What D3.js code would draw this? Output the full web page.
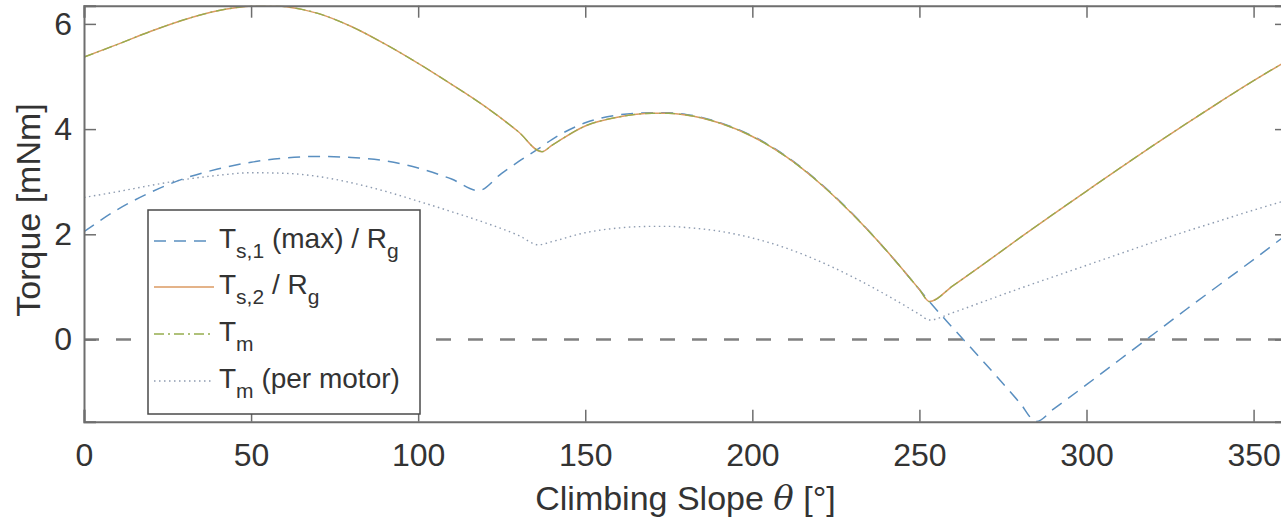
<!DOCTYPE html>
<html><head><meta charset="utf-8">
<script src="https://cdn.jsdelivr.net/npm/d3@7"></script>
<style>
html,body{margin:0;padding:0;background:#fff;overflow:hidden}
svg{display:block;font-family:"Liberation Sans",Arial,Helvetica,sans-serif}
</style></head>
<body><svg id="chart" width="1281" height="526"></svg>
<script>
// ---- data ----
const xTicks = [0, 50, 100, 150, 200, 250, 300, 350];
const yTicks = [0, 2, 4, 6];
const xDomain = [0, 360];
const yDomain = [-1.563, 6.346];

const thetaS1 = [0,10,20,30,40,50,60,70,80,90,100,110,118,125,130,137,140,150,160,170,175,180,190,200,210,220,230,240,250,253,260,270,280,285,290,300,310,320,330,340,350,360];
const ts1     = [2.05,2.47,2.80,3.06,3.24,3.37,3.45,3.48,3.46,3.40,3.26,3.05,2.83,3.16,3.38,3.67,3.80,4.12,4.27,4.31,4.31,4.28,4.13,3.87,3.49,2.99,2.39,1.70,0.95,0.72,0.22,-0.48,-1.20,-1.56,-1.33,-0.86,-0.38,0.10,0.58,1.05,1.52,2.00];

const thetaS2 = [0,10,20,30,40,50,55,60,70,80,90,100,110,120,130,137,140,150,160,170,175,180,190,200,210,220,230,240,250,253,260,270,280,290,300,310,320,330,340,350,360];
const ts2     = [5.37,5.61,5.86,6.08,6.25,6.34,6.35,6.33,6.20,5.95,5.62,5.25,4.85,4.43,3.95,3.57,3.69,4.06,4.23,4.30,4.30,4.27,4.12,3.86,3.48,2.98,2.38,1.70,0.95,0.72,1.02,1.47,1.93,2.38,2.82,3.26,3.69,4.11,4.52,4.92,5.30];

const thetaM  = [0,10,20,30,40,50,55,60,70,80,90,100,110,120,130,137,140,150,160,170,175,180,190,200,210,220,230,240,250,253,260,270,280,290,300,310,320,330,340,350,360];
const tm      = [5.37,5.61,5.86,6.08,6.25,6.34,6.35,6.33,6.20,5.95,5.62,5.25,4.85,4.43,3.95,3.57,3.69,4.06,4.23,4.30,4.30,4.27,4.12,3.86,3.48,2.98,2.38,1.70,0.95,0.72,1.02,1.47,1.93,2.38,2.82,3.26,3.69,4.11,4.52,4.92,5.30];

const thetaPM = [0,10,20,30,40,50,60,70,80,90,100,110,120,130,136,140,150,160,170,175,180,190,200,210,220,230,240,250,253,260,270,280,290,300,310,320,330,340,350,360];
const tmPer   = [2.70,2.81,2.93,3.04,3.12,3.17,3.16,3.10,2.98,2.82,2.63,2.43,2.22,1.98,1.80,1.86,2.03,2.12,2.15,2.15,2.13,2.06,1.93,1.74,1.49,1.19,0.85,0.48,0.37,0.51,0.74,0.97,1.19,1.41,1.63,1.85,2.06,2.26,2.46,2.65];

const legendLabels = [
  {main:"T", sub:"s,1", rest:" (max) / R", sub2:"g"},
  {main:"T", sub:"s,2", rest:" / R", sub2:"g"},
  {main:"T", sub:"m", rest:"", sub2:""},
  {main:"T", sub:"m", rest:" (per motor)", sub2:""}
];
const xLabel = "Climbing Slope ";
const yLabel = "Torque [mNm]";

// ---- layout ----
const svg = d3.select("#chart");
const L = 84, R = 1287, T = 5.7, B = 421.7;
const x = d3.scaleLinear().domain(xDomain).range([L, R]);
const y = d3.scaleLinear().domain(yDomain).range([B, T]);
const axisCol = "#6e6e6e", textCol = "#333";

const plot = svg.append("g");
svg.append("clipPath").attr("id","pc").append("rect")
  .attr("x",L).attr("y",T).attr("width",R-L).attr("height",B-T);

// zero line
plot.append("line").attr("x1",L).attr("x2",R).attr("y1",y(0)).attr("y2",y(0))
  .attr("stroke","#808080").attr("stroke-width",2.4).attr("stroke-dasharray","15,17");

const series = [
  {th: thetaPM, v: tmPer, color:"#8d9bb0", w:1.4, dash:"1.5,3.5"},
  {th: thetaS1, v: ts1, color:"#5a8fc0", w:1.5, dash:"12,8"},
  {th: thetaS2, v: ts2, color:"#db9a62", w:1.5, dash:null},
  {th: thetaM, v: tm, color:"#95ad4e", w:1.3, dash:"10,4,2,4"}
];
const line = d3.line().curve(d3.curveMonotoneX);
series.forEach(s => {
  const pts = s.th.map((t,i)=>[x(t), y(s.v[i])]);
  const p = plot.append("path").attr("d", line(pts)).attr("fill","none")
    .attr("stroke", s.color).attr("stroke-width", s.w).attr("clip-path","url(#pc)");
  if (s.dash) p.attr("stroke-dasharray", s.dash);
});

// axes
const tl = 12;
const xb = d3.axisBottom(x).tickValues(xTicks).tickSize(-tl).tickPadding(22).tickFormat(d3.format("d"));
const xt = d3.axisTop(x).tickValues(xTicks).tickSize(-tl).tickFormat("");
const yl = d3.axisLeft(y).tickValues(yTicks).tickSize(-tl).tickPadding(12).tickFormat(d3.format("d"));
const yr = d3.axisRight(y).tickValues(yTicks).tickSize(-tl).tickFormat("");
function style(g){
  g.select(".domain").attr("stroke",axisCol).attr("stroke-width",2);
  g.selectAll(".tick line").attr("stroke",axisCol).attr("stroke-width",1.5);
  g.selectAll(".tick text").attr("fill",textCol).attr("font-size",32).attr("font-family","Liberation Sans, Arial, sans-serif");
}
svg.append("g").attr("transform",`translate(0,${B})`).call(xb).call(style);
svg.append("g").attr("transform",`translate(0,${T})`).call(xt).call(style);
svg.append("g").attr("transform",`translate(${L},0)`).call(yl).call(style);
svg.append("g").attr("transform",`translate(${R},0)`).call(yr).call(style);

// axis labels
const xl = svg.append("text").attr("x",(L+R)/2).attr("y",510).attr("text-anchor","middle")
  .attr("fill",textCol).attr("font-size",34);
xl.append("tspan").text(xLabel);
xl.append("tspan").attr("font-family","DejaVu Serif, Liberation Serif, serif").attr("font-style","italic").text("θ");
xl.append("tspan").text(" [°]");
svg.append("text").attr("transform","translate(40,210) rotate(-90)").attr("text-anchor","middle")
  .attr("fill",textCol).attr("font-size",34).text(yLabel);

// legend
const lg = svg.append("g");
lg.append("rect").attr("x",148).attr("y",210).attr("width",272).attr("height",204)
  .attr("fill","#fff").attr("stroke","#4a4a4a").attr("stroke-width",1.5);
const rowY = [241, 287, 334, 381];
legendLabels.forEach((lab,i) => {
  const s = [series[1], series[2], series[3], series[0]][i];
  const ln = lg.append("line").attr("x1",154).attr("x2",214).attr("y1",rowY[i]).attr("y2",rowY[i])
    .attr("stroke",s.color).attr("stroke-width",s.w);
  if (s.dash) ln.attr("stroke-dasharray", s.dash);
  const t = lg.append("text").attr("x",219).attr("y",rowY[i]+7).attr("fill",textCol).attr("font-size",28);
  t.append("tspan").text(lab.main);
  t.append("tspan").attr("font-size",21).attr("dy",10).text(lab.sub);
  if (lab.rest) t.append("tspan").attr("dy",-10).text(lab.rest);
  if (lab.sub2) t.append("tspan").attr("font-size",21).attr("dy",10).text(lab.sub2);
});
</script></body></html>
